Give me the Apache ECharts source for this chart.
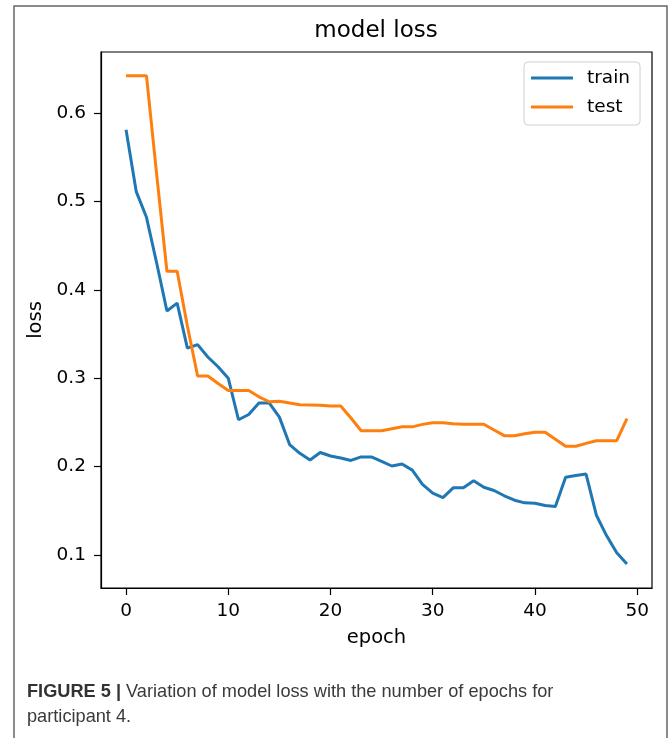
<!DOCTYPE html>
<html lang="en">
<head>
  <meta charset="UTF-8">
  <script src="https://cdn.jsdelivr.net/npm/echarts/dist/echarts.min.js"></script>
  <style>
    html, body { margin: 0; padding: 0; background: #fff; }
    #chart { width: 669px; height: 738px; }
  </style>
</head>
<body>
  <div id="chart"></div>
  <script>
    // values, one per epoch
    const epochs = [0, 1, 2, 3, 4, 5, 6, 7, 8, 9,
      10, 11, 12, 13, 14, 15, 16, 17, 18, 19,
      20, 21, 22, 23, 24, 25, 26, 27, 28, 29,
      30, 31, 32, 33, 34, 35, 36, 37, 38, 39,
      40, 41, 42, 43, 44, 45, 46, 47, 48, 49];
    const trainLoss = [0.581, 0.511, 0.482, 0.43, 0.376, 0.385, 0.334, 0.338, 0.324, 0.313,
      0.300, 0.253, 0.259, 0.272, 0.272, 0.256, 0.225, 0.215, 0.2075, 0.216,
      0.212, 0.2097, 0.207, 0.211, 0.211, 0.206, 0.2007, 0.203, 0.196, 0.180,
      0.170, 0.165, 0.176, 0.176, 0.184, 0.1766, 0.173, 0.167, 0.162, 0.159,
      0.1585, 0.156, 0.155, 0.188, 0.190, 0.1916, 0.1453, 0.122, 0.1026, 0.0898];
    const testLoss = [0.642, 0.642, 0.642, 0.53, 0.421, 0.421, 0.359, 0.3025, 0.3025, 0.294,
      0.286, 0.286, 0.286, 0.279, 0.2734, 0.274, 0.272, 0.270, 0.2697, 0.2694,
      0.2685, 0.2685, 0.255, 0.2406, 0.2406, 0.2406, 0.2429, 0.245, 0.245, 0.2478,
      0.2497, 0.2497, 0.2486, 0.248, 0.248, 0.248, 0.2414, 0.235, 0.235, 0.2372,
      0.2388, 0.2388, 0.231, 0.223, 0.223, 0.2263, 0.2293, 0.2293, 0.2293, 0.2542];
    const xTicks = [0, 10, 20, 30, 40, 50];
    const yTicks = [0.1, 0.2, 0.3, 0.4, 0.5, 0.6];

    const font = 'DejaVu Sans';
    const chart = echarts.init(document.getElementById('chart'), null, { renderer: 'canvas' });

    const pairs = vals => epochs.map((e, i) => [e, vals[i]]);

    const option = {
      animation: false,
      backgroundColor: '#fff',
      grid: {
        left: 101, top: 52, width: 551, height: 536,
        show: true, borderColor: '#000', borderWidth: 1.2,
        containLabel: false
      },
      xAxis: {
        type: 'value',
        min: -2.45, max: 51.45,
        name: 'epoch', nameLocation: 'middle', nameGap: 40,
        nameTextStyle: { fontFamily: font, fontSize: 19.5, color: '#000' },
        splitLine: { show: false },
        axisLine: { show: true, onZero: false, lineStyle: { color: '#000', width: 1.2 } },
        axisTick: { show: true, length: 7, customValues: xTicks, lineStyle: { color: '#000', width: 1.2 } },
        axisLabel: { customValues: xTicks, margin: 14, fontFamily: font, fontSize: 18.5, color: '#000' }
      },
      yAxis: {
        type: 'value',
        min: 0.0627, max: 0.669,
        name: 'loss', nameLocation: 'middle', nameGap: 53,
        nameTextStyle: { fontFamily: font, fontSize: 19.5, color: '#000' },
        splitLine: { show: false },
        axisLine: { show: true, onZero: false, lineStyle: { color: '#000', width: 1.2 } },
        axisTick: { show: true, length: 7, customValues: yTicks, lineStyle: { color: '#000', width: 1.2 } },
        axisLabel: {
          customValues: yTicks, margin: 15, fontFamily: font, fontSize: 18.5, color: '#000',
          formatter: v => v.toFixed(1)
        }
      },
      legend: {
        orient: 'vertical',
        left: 524, top: 62,
        padding: [6, 10, 8, 7],
        backgroundColor: '#fff',
        borderColor: '#d0d0d0', borderWidth: 1, borderRadius: 4,
        icon: 'rect', itemWidth: 42, itemHeight: 3, itemGap: 9,
        textStyle: { fontFamily: font, fontSize: 18.5, color: '#000', lineHeight: 20, padding: [0, 0, 0, 9] },
        data: ['train', 'test']
      },
      series: [
        {
          name: 'train', type: 'line', data: pairs(trainLoss),
          symbol: 'none', color: '#1f77b4',
          lineStyle: { width: 3, color: '#1f77b4' }
        },
        {
          name: 'test', type: 'line', data: pairs(testLoss),
          symbol: 'none', color: '#ff7f0e',
          lineStyle: { width: 3, color: '#ff7f0e' }
        }
      ],
      graphic: [
        {
          type: 'rect', z: -10, silent: true,
          shape: { x: 14, y: 6, width: 653, height: 740 },
          style: { fill: 'none', stroke: '#666', lineWidth: 1.5 }
        },
        {
          type: 'text', silent: true,
          x: 376, y: 20,
          style: {
            text: 'model loss', fontFamily: font, fontSize: 23, fill: '#000',
            textAlign: 'center', textVerticalAlign: 'top'
          }
        },
        {
          type: 'text', silent: true,
          x: 27, y: 679,
          style: {
            text: '{b|FIGURE 5 |} Variation of model loss with the number of epochs for\nparticipant 4.',
            fontFamily: 'Liberation Sans', fontSize: 18.2, fill: '#3a3a3a', lineHeight: 25,
            rich: {
              b: { fontFamily: 'Liberation Sans', fontSize: 18.2, fontWeight: 'bold', fill: '#333' }
            }
          }
        }
      ]
    };

    chart.setOption(option);
  </script>
</body>
</html>
